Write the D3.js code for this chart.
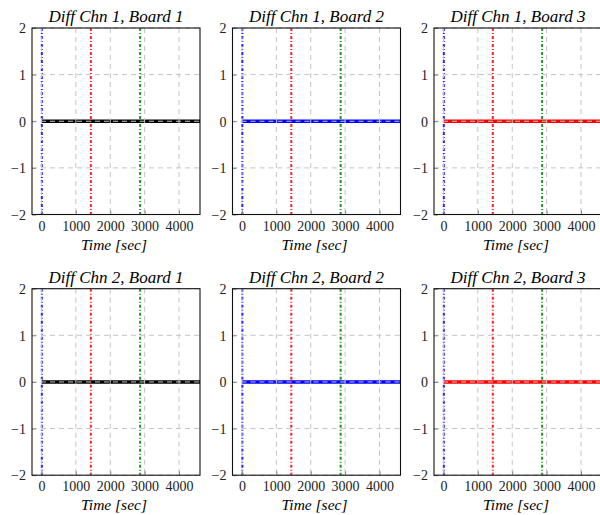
<!DOCTYPE html>
<html>
<head>
<meta charset="utf-8">
<script src="https://cdn.jsdelivr.net/npm/d3@7"></script>
<style>
  body { margin: 0; background: #fff; }
  svg { display: block; }
</style>
</head>
<body>
<svg width="600" height="515"></svg>
<script>
// channels (rows) and boards (columns)
const channels = ["Diff Chn 1", "Diff Chn 2"];
const boards = ["Board 1", "Board 2", "Board 3"];
const boardColors = ["#000000", "#0000ff", "#ff0000"];

// time samples [sec] and differences (flat at zero everywhere)
const timeSec = [0, 500, 1000, 1500, 2000, 2500, 3000, 3500, 4000, 4500, 4620];
const diffChn1 = [
  [0, 0, 0, 0, 0, 0, 0, 0, 0, 0, 0],
  [0, 0, 0, 0, 0, 0, 0, 0, 0, 0, 0],
  [0, 0, 0, 0, 0, 0, 0, 0, 0, 0, 0]
];
const diffChn2 = [
  [0, 0, 0, 0, 0, 0, 0, 0, 0, 0, 0],
  [0, 0, 0, 0, 0, 0, 0, 0, 0, 0, 0],
  [0, 0, 0, 0, 0, 0, 0, 0, 0, 0, 0]
];
const diffs = [diffChn1, diffChn2];

// event markers
const eventTimes = [10, 1435, 2870];
const eventColors = ["#0000ff", "#ff0000", "#008000"];

const xTicks = [0, 1000, 2000, 3000, 4000];
const yTicks = [-2, -1, 0, 1, 2];

let svg = d3.select("svg");

const serif = "Liberation Serif";
const colLeft = [32, 232.5, 434],
      rowTop = [28, 288.7],
      pw = 168,
      ph = 186.5;

const fmt = d => d < 0 ? "\u2212" + Math.abs(d) : String(d);

const drawPanel = (r, c) => {
  const g = svg.append("g").attr("transform", `translate(${colLeft[c]},${rowTop[r]})`);
  const x = d3.scaleLinear().domain([-276, 4611]).range([0, pw]);
  const y = d3.scaleLinear().domain([-2, 2]).range([ph, 0]);
  const id = `clip${r}${c}`;

  g.append("clipPath").attr("id", id)
    .append("rect").attr("width", pw).attr("height", ph);

  // data line
  const line = d3.line().x(d => x(d[0])).y(d => y(d[1]));
  g.append("path")
    .datum(timeSec.map((t, i) => [t, diffs[r][c][i]]))
    .attr("clip-path", `url(#${id})`)
    .attr("d", line)
    .attr("fill", "none")
    .attr("stroke", boardColors[c])
    .attr("stroke-width", 3.6);

  // event lines
  g.selectAll(".ev").data(eventTimes).enter().append("line")
    .attr("class", "ev")
    .attr("x1", d => x(d)).attr("x2", d => x(d))
    .attr("y1", 0).attr("y2", ph)
    .attr("stroke", (d, i) => eventColors[i])
    .attr("stroke-width", 2)
    .attr("stroke-dasharray", "3,2,1,2")
    .attr("opacity", 0.85);

  // grid (drawn over the data, like the original)
  g.selectAll(".gx").data(xTicks).enter().append("line")
    .attr("x1", d => x(d)).attr("x2", d => x(d))
    .attr("y1", 0).attr("y2", ph)
    .attr("stroke", "#c4c4c4").attr("stroke-width", 1)
    .attr("stroke-dasharray", "5,4");
  g.selectAll(".gy").data(yTicks).enter().append("line")
    .attr("x1", 0).attr("x2", pw)
    .attr("y1", d => y(d)).attr("y2", d => y(d))
    .attr("stroke", "#c4c4c4").attr("stroke-width", 1)
    .attr("stroke-dasharray", "5,4");

  // axes, ticks inside
  const xa = g.append("g").attr("transform", `translate(0,${ph})`)
    .call(d3.axisBottom(x).tickValues(xTicks).tickSize(-4).tickPadding(6).tickFormat(fmt));
  const ya = g.append("g")
    .call(d3.axisLeft(y).tickValues(yTicks).tickSize(-4).tickPadding(6).tickFormat(fmt));
  [xa, ya].forEach(a => {
    a.attr("font-family", serif).attr("font-size", 14);
    a.select(".domain").remove();
    a.selectAll(".tick line").attr("stroke", "#888");
    a.selectAll(".tick text").attr("fill", "#222");
  });
  xa.selectAll(".tick text").attr("y", 5).attr("dy", "0.8em");
  ya.selectAll(".tick text").attr("dy", "0.34em");

  // frame
  g.append("rect").attr("width", pw).attr("height", ph)
    .attr("fill", "none").attr("stroke", "#111").attr("stroke-width", 1.1);

  g.append("text")
    .attr("font-family", serif).attr("font-style", "italic").attr("font-size", 17)
    .attr("x", pw / 2).attr("y", -6).attr("text-anchor", "middle")
    .text(`${channels[r]}, ${boards[c]}`);
  g.append("text")
    .attr("font-family", serif).attr("font-style", "italic").attr("font-size", 15.5)
    .attr("x", pw / 2 - 2).attr("y", ph + 35).attr("text-anchor", "middle")
    .text("Time [sec]");
};

channels.forEach((ch, r) => boards.forEach((b, c) => drawPanel(r, c)));
</script>
</body>
</html>
